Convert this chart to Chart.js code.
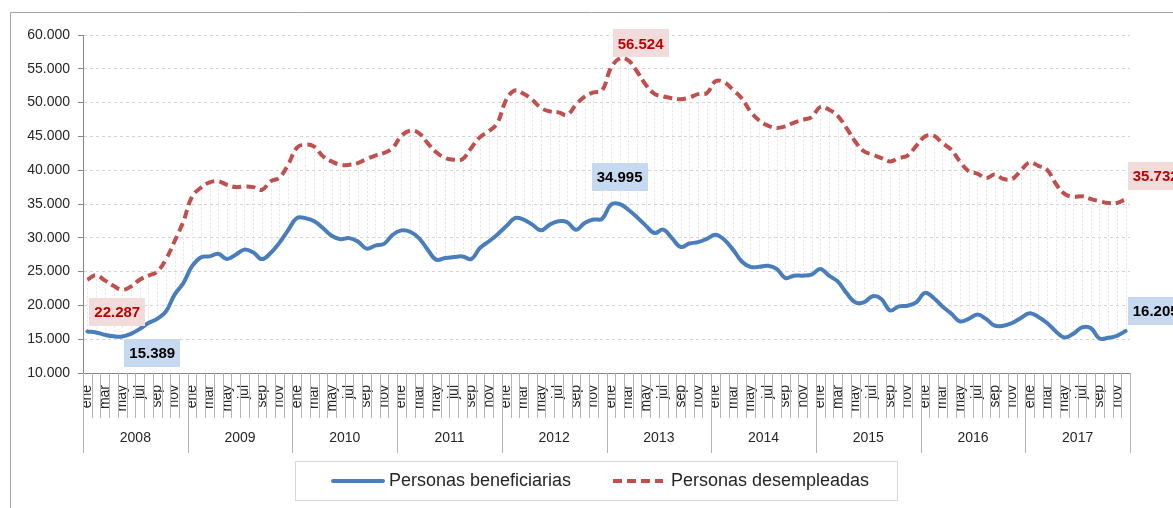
<!DOCTYPE html>
<html>
<head>
<meta charset="utf-8">
<script src="https://cdn.jsdelivr.net/npm/chart.js@4.4.1/dist/chart.umd.min.js"></script>
<style>
  html, body { margin: 0; padding: 0; background: #fff; overflow: hidden; }
  canvas { display: block; }
</style>
</head>
<body>
<canvas id="paroChart" width="1173" height="508"></canvas>
<script>
const years = ['2008', '2009', '2010', '2011', '2012', '2013', '2014', '2015', '2016', '2017'];
const months = ['ene', 'feb', 'mar', 'abr', 'may', 'jun', 'jul', 'ago', 'sep', 'oct', 'nov', 'dic'];

const beneficiarias = [
  16150, 16000, 15650, 15420, 15389, 15800, 16500, 17400, 18000, 19100, 21600, 23300,
  25800, 27100, 27250, 27650, 26850, 27500, 28250, 27850, 26850, 27750, 29250, 31100,
  32900, 32900, 32450, 31450, 30300, 29800, 29950, 29450, 28400, 28850, 29100, 30450,
  31100, 30900, 29950, 28250, 26750, 27000, 27150, 27250, 26850, 28500, 29450, 30500,
  31700, 32900, 32700, 31950, 31100, 31950, 32450, 32300, 31200, 32200, 32700, 32800,
  34900, 34995, 34150, 33050, 31800, 30700, 31200, 29950, 28650, 29150, 29350, 29850,
  30450, 29700, 28250, 26500, 25700, 25700, 25850, 25400, 24050, 24400, 24400, 24550,
  25400, 24400, 23550, 21850, 20450, 20450, 21350, 20950, 19250, 19850, 19950, 20450,
  21850, 21100, 19850, 18800, 17650, 18000, 18650, 18000, 17000, 17000, 17400, 18150,
  18850, 18300, 17400, 16150, 15250, 15800, 16750, 16650, 15100, 15200, 15500, 16205
];

const desempleadas = [
  23800, 24450, 23700, 22900, 22287, 22800, 23800, 24400, 25000, 26800, 29500, 32400,
  36100, 37400, 38200, 38350, 37850, 37500, 37600, 37500, 37100, 38350, 38900, 40800,
  43300, 43800, 43500, 42050, 41300, 40800, 40800, 41050, 41650, 42150, 42550, 43300,
  45100, 45850, 45500, 44000, 42650, 41800, 41550, 41650, 43300, 44900, 45750, 47000,
  50400, 51800, 51300, 50400, 49200, 48700, 48550, 48200, 49700, 50900, 51500, 51800,
  55100, 56524, 56250, 54600, 52650, 51300, 50900, 50650, 50500, 50750, 51250, 51400,
  53150, 53000, 51900, 50650, 48700, 47350, 46600, 46250, 46500, 47050, 47450, 47850,
  49350, 48950, 48050, 46250, 44250, 42800, 42300, 41800, 41300, 41800, 42150, 43600,
  45000, 45100, 44000, 43050, 41300, 39850, 39500, 38850, 39350, 38700, 38700, 39950,
  41150, 40650, 40050, 38000, 36500, 36050, 36150, 35750, 35400, 35150, 35150, 35732
];

const yMin = 10000;
const yMax = 60000;
const yStep = 5000;

const labels = years.flatMap(() => months);
const FONT = '"Liberation Sans", Arial, sans-serif';
const fmt = (v) => Math.round(v).toString().replace(/\B(?=(\d{3})+(?!\d))/g, '.');

// outer frame of the chart object (only top and left edges are visible)
const frame = {
  id: 'frame',
  beforeDraw(chart) {
    const c = chart.ctx;
    c.save();
    c.strokeStyle = '#a6a6a6';
    c.lineWidth = 1;
    c.beginPath();
    c.moveTo(10.5, chart.height);
    c.lineTo(10.5, 12.5);
    c.lineTo(chart.width, 12.5);
    c.stroke();
    c.restore();
  },
};

// faint high-low lines between the two series
const highLow = {
  id: 'highLow',
  beforeDatasetsDraw(chart) {
    const x = chart.scales.x, y = chart.scales.y, c = chart.ctx;
    c.save();
    c.strokeStyle = '#e6e6e6';
    c.lineWidth = 1;
    c.setLineDash([2, 2]);
    desempleadas.forEach((v, i) => {
      const px = Math.round(x.getPixelForValue(i)) + 0.5;
      c.beginPath();
      c.moveTo(px, y.getPixelForValue(v));
      c.lineTo(px, y.getPixelForValue(beneficiarias[i]));
      c.stroke();
    });
    c.restore();
  },
};

// month separators, year separators and year row
const yearAxis = {
  id: 'yearAxis',
  afterDraw(chart) {
    const x = chart.scales.x, c = chart.ctx, top = chart.chartArea.bottom;
    const half = (x.getPixelForValue(1) - x.getPixelForValue(0)) / 2;
    c.save();
    c.strokeStyle = '#b3b3b3';
    c.lineWidth = 1;
    for (let i = 0; i <= labels.length; i++) {
      const px = Math.round(x.getPixelForValue(i) - half) + 0.5;
      c.beginPath();
      c.moveTo(px, top);
      c.lineTo(px, top + (i % 12 === 0 ? 80 : 45));
      c.stroke();
    }
    c.fillStyle = '#262626';
    c.font = '14px ' + FONT;
    c.textAlign = 'center';
    c.textBaseline = 'middle';
    years.forEach((yr, k) => {
      const cx = (x.getPixelForValue(k * 12) + x.getPixelForValue(k * 12 + 11)) / 2;
      c.fillText(yr, cx, top + 65);
    });
    c.restore();
  },
};

// boxed value labels on selected points
const valueLabels = {
  id: 'valueLabels',
  afterDatasetsDraw(chart) {
    const c = chart.ctx;
    const specs = [
      { ds: 1, i: 4, dx: -5, dy: 22 },
      { ds: 0, i: 4, dx: 30, dy: 16 },
      { ds: 0, i: 61, dx: 0, dy: -27 },
      { ds: 1, i: 61, dx: 21, dy: -15 },
      { ds: 1, i: 119, dx: 30, dy: -23 },
      { ds: 0, i: 119, dx: 30, dy: -20 },
    ];
    const styles = [
      { bg: '#c6d9f1', fg: '#000000' },
      { bg: '#f2dcdb', fg: '#c00000' },
    ];
    c.save();
    c.font = 'bold 15px ' + FONT;
    c.textAlign = 'center';
    c.textBaseline = 'middle';
    specs.forEach((s) => {
      const pt = chart.getDatasetMeta(s.ds).data[s.i];
      const v = chart.data.datasets[s.ds].data[s.i];
      const text = fmt(v);
      const w = c.measureText(text).width + 10;
      const h = 28;
      const cx = pt.x + s.dx, cy = pt.y + s.dy;
      c.fillStyle = styles[s.ds].bg;
      c.fillRect(Math.round(cx - w / 2), Math.round(cy - h / 2), Math.round(w), h);
      c.fillStyle = styles[s.ds].fg;
      c.fillText(text, cx, cy + 1);
    });
    c.restore();
  },
};

// boxed legend below the axis
const boxedLegend = {
  id: 'boxedLegend',
  afterDraw(chart) {
    const c = chart.ctx;
    const items = [
      { x: 333, textX: 389 },
      { x: 613, textX: 671 },
    ];
    const ly = 481;
    c.save();
    c.strokeStyle = '#d9d9d9';
    c.lineWidth = 1;
    c.strokeRect(295.5, 461.5, 602, 39);
    c.font = '18px ' + FONT;
    c.textBaseline = 'middle';
    c.textAlign = 'left';
    chart.data.datasets.forEach((ds, k) => {
      const it = items[k];
      c.strokeStyle = ds.borderColor;
      c.lineWidth = ds.borderWidth;
      c.lineCap = ds.borderDash ? 'butt' : 'round';
      c.setLineDash(ds.borderDash || []);
      c.beginPath();
      c.moveTo(it.x, ly);
      c.lineTo(it.x + 50, ly);
      c.stroke();
      c.setLineDash([]);
      c.fillStyle = '#262626';
      c.fillText(ds.label, it.textX, ly);
    });
    c.restore();
  },
};

new Chart(document.getElementById('paroChart').getContext('2d'), {
  type: 'line',
  data: {
    labels: labels,
    datasets: [
      {
        label: 'Personas beneficiarias',
        data: beneficiarias,
        borderColor: '#4a7ebb',
        borderWidth: 4,
        borderCapStyle: 'round',
        borderJoinStyle: 'round',
        pointRadius: 0,
        tension: 0.4,
        fill: false,
      },
      {
        label: 'Personas desempleadas',
        data: desempleadas,
        borderColor: '#c0504d',
        borderWidth: 4,
        borderDash: [9, 5],
        pointRadius: 0,
        tension: 0.4,
        fill: false,
      },
    ],
  },
  options: {
    responsive: false,
    animation: false,
    devicePixelRatio: 1,
    layout: { padding: { left: 10, top: 35, right: 43, bottom: 53 } },
    plugins: {
      legend: { display: false },
      tooltip: { enabled: false },
    },
    scales: {
      x: {
        offset: true,
        grid: { display: false },
        border: { display: true, color: '#868686' },
        ticks: {
          autoSkip: false,
          minRotation: 90,
          maxRotation: 90,
          padding: 4,
          color: '#262626',
          font: { family: FONT, size: 14 },
          callback: (val, i) => (i % 2 === 0 ? labels[i] : ''),
        },
        afterFit: (scale) => { scale.height = 82; },
      },
      y: {
        min: yMin,
        max: yMax,
        ticks: {
          stepSize: yStep,
          padding: 8,
          color: '#262626',
          font: { family: FONT, size: 14 },
          callback: (v) => fmt(v),
        },
        grid: {
          color: '#d4d4d4',
          tickColor: '#868686',
          tickLength: 5,
        },
        border: { display: true, color: '#868686', dash: [3, 3] },
        afterFit: (scale) => { scale.width = 73; },
      },
    },
  },
  plugins: [frame, highLow, yearAxis, valueLabels, boxedLegend],
});
</script>
</body>
</html>
